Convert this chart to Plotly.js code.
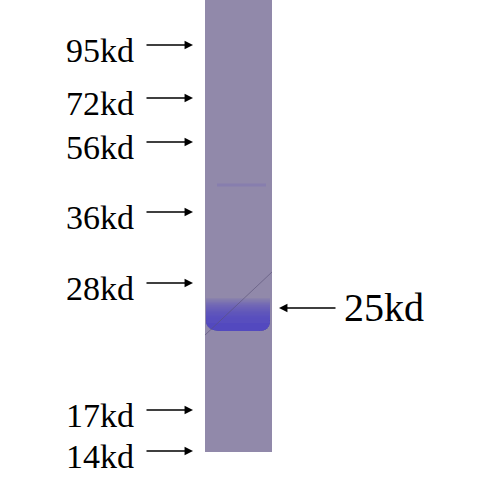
<!DOCTYPE html>
<html>
<head>
<meta charset="utf-8">
<script src="https://cdn.plot.ly/plotly-3.0.1.min.js"></script>
<style>
  html, body { margin: 0; padding: 0; background: #fff; }
  #plot { width: 489px; height: 480px; }
</style>
</head>
<body>
<div id="plot"></div>
<script>
// marker ladder (labels and where each arrow points on the gel, px from top)
const markerLabels = ['95kd', '72kd', '56kd', '36kd', '28kd', '17kd', '14kd'];
const markerY = [45, 98, 142, 212, 283, 410, 451];
// detected band
const bandLabel = '25kd';
const bandY = 308;
const faintBandY = 185;

// gel geometry (pixels)
const LANE_X0 = 205;
const LANE_X1 = 272;
const LANE_BOTTOM = 452;
const ARROW_TAIL = 145;
const ARROW_TIP = 193;
const LABEL_RIGHT = 136;

const FONT = 'Liberation Serif, Times New Roman, serif';

const shapes = [
  {
    type: 'rect', xref: 'x', yref: 'y',
    x0: LANE_X0, x1: LANE_X1, y0: 0, y1: LANE_BOTTOM,
    fillcolor: '#9189aa', line: { width: 0 }, layer: 'below',
  },
];

// faint upper band
shapes.push({
  type: 'rect', xref: 'x', yref: 'y',
  x0: LANE_X0 + 12, x1: LANE_X1 - 6, y0: faintBandY - 1.5, y1: faintBandY + 1.5,
  fillcolor: '#7068b8', opacity: 0.3, line: { width: 0 },
});

// main band, built from stacked translucent layers so it darkens toward the bottom
function bandPath(top, bottom, r) {
  const x0 = LANE_X0 + 1;
  const x1 = LANE_X1 - 2;
  return 'M ' + x0 + ' ' + top +
    ' L ' + x1 + ' ' + top +
    ' L ' + x1 + ' ' + (bottom - r) +
    ' Q ' + x1 + ' ' + bottom + ' ' + (x1 - r) + ' ' + bottom +
    ' L ' + (x0 + r * 1.4) + ' ' + bottom +
    ' Q ' + x0 + ' ' + bottom + ' ' + x0 + ' ' + (bottom - r) + ' Z';
}
const bandTop = bandY - 10;
const bandBottom = bandY + 23;
for (let i = 0; i < 16; i++) {
  shapes.push({
    type: 'path', xref: 'x', yref: 'y',
    path: bandPath(bandTop + i * 1.3, bandBottom, 11),
    fillcolor: '#5044c8', opacity: 0.09, line: { width: 0 },
  });
}
// darker rim at the bottom edge of the band
shapes.push({
  type: 'path', xref: 'x', yref: 'y',
  path: bandPath(bandBottom - 8, bandBottom, 11),
  fillcolor: '#4a3ec2', opacity: 0.3, line: { width: 0 },
});

// thin diagonal scratch across the lane
shapes.push({
  type: 'line', xref: 'x', yref: 'y',
  x0: LANE_X0, y0: bandY + 27, x1: LANE_X1, y1: bandY - 36,
  line: { color: '#5a5278', width: 1 }, opacity: 0.6,
});

const annotations = [];
markerLabels.forEach((label, i) => {
  annotations.push({
    xref: 'x', yref: 'y', axref: 'x', ayref: 'y',
    x: ARROW_TIP, y: markerY[i], ax: ARROW_TAIL, ay: markerY[i],
    text: '', showarrow: true, arrowhead: 2, arrowsize: 1.3, arrowwidth: 1.3,
    arrowcolor: '#000',
  });
  annotations.push({
    xref: 'x', yref: 'y',
    x: LABEL_RIGHT, y: markerY[i] + 5,
    xanchor: 'right', yanchor: 'middle',
    text: label, showarrow: false,
    font: { family: FONT, size: 34, color: '#000' },
  });
});

annotations.push({
  xref: 'x', yref: 'y', axref: 'x', ayref: 'y',
  x: 279, y: bandY, ax: 337, ay: bandY,
  text: '', showarrow: true, arrowhead: 2, arrowsize: 1.3, arrowwidth: 1.3,
  arrowcolor: '#000',
});
annotations.push({
  xref: 'x', yref: 'y',
  x: 342, y: bandY - 1,
  xanchor: 'left', yanchor: 'middle',
  text: bandLabel, showarrow: false,
  font: { family: FONT, size: 40, color: '#000' },
});

const layout = {
  width: 489,
  height: 480,
  margin: { l: 0, r: 0, t: 0, b: 0 },
  paper_bgcolor: '#fff',
  plot_bgcolor: '#fff',
  showlegend: false,
  xaxis: { range: [0, 489], visible: false, fixedrange: true },
  yaxis: { range: [480, 0], visible: false, fixedrange: true },
  shapes: shapes,
  annotations: annotations,
};

Plotly.newPlot('plot', [], layout, { displayModeBar: false, staticPlot: true });
</script>
</body>
</html>
